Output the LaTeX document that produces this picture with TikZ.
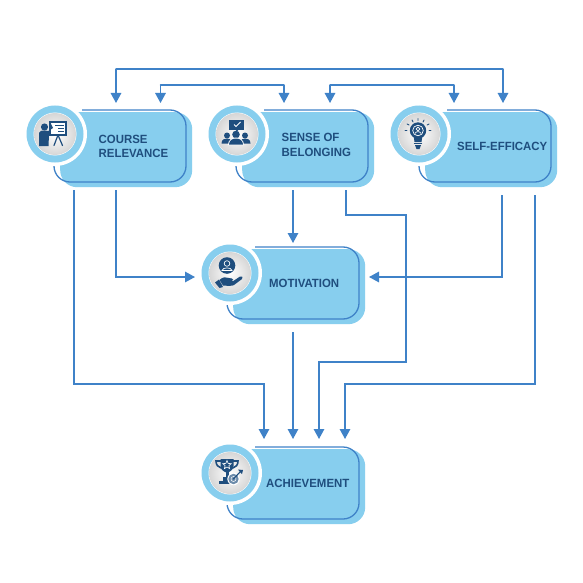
\documentclass[tikz,border=0pt]{standalone}
\usepackage{fontspec}
\setmainfont[FakeStretch=0.96]{Liberation Sans}
\usetikzlibrary{arrows.meta,shapes.geometric}
\definecolor{skyfill}{HTML}{87CEEE}
\definecolor{linecol}{HTML}{3F82C8}
\definecolor{ink}{HTML}{1F4E7E}
\tikzset{
  conn/.style={draw=linecol,line width=1.4pt,-{Triangle[length=10pt,width=10.5pt]}},
  plainconn/.style={draw=linecol,line width=1.4pt},
  panel/.style={fill=skyfill,draw=none,rounded corners=17pt,inner sep=0pt,anchor=north west},
  rim/.style={draw=linecol,line width=1.3pt,rounded corners=16pt},
  label/.style={font=\bfseries\fontsize{11.9}{14.5}\selectfont,text=ink,align=left,anchor=west,inner sep=0pt},
  icon/.style={fill=ink,draw=none},
  iconw/.style={fill=white,draw=none},
  iconl/.style={draw=ink,line width=1.1pt,line cap=round},
  wl/.style={draw=white,line width=.7pt}
}
% #1 name, #2 L, #3 T, #4 circle x, #5 circle y, #6 label x, #7 label y, #8 text
\newcommand{\cardbox}[8]{%
  \node[panel,minimum width=132pt,minimum height=75pt] (#1) at (#2+6,#3+2) {};
  \draw[rim] (#2+28,#3) -- (#2+132,#3) -- (#2+132,#3+72) -- (#2,#3+72) -- (#2,#3+55);
  \fill[white] (#4,#5) circle (32pt);
  \fill[skyfill] (#4,#5) circle (28.5pt);
  \fill[white] (#4,#5) circle (21.5pt);
  \shade[inner color=white,outer color=black!16] (#4,#5) circle (21pt);
  \node[label] (#1-label) at (#6,#7) {#8};
}
\begin{document}
\begin{tikzpicture}[x=1pt,y=-1pt]
\useasboundingbox (0,0) rectangle (583,583);
\fill[white] (0,0) rectangle (583,583);

\cardbox{course}{54}{110}{55}{134}{98.5}{146.5}{COURSE\\RELEVANCE}
\cardbox{belong}{236}{110}{237}{134}{281.5}{145}{SENSE OF\\BELONGING}
\cardbox{efficacy}{419}{110}{419}{134}{457}{146.5}{SELF-EFFICACY}
\cardbox{motiv}{227}{247}{230}{273}{269}{283.5}{MOTIVATION}
\cardbox{achieve}{227}{447}{230}{473}{266}{483.5}{ACHIEVEMENT}

% icons
\begin{scope}[shift={(55,134)}]
  \fill[icon] (-10.5,-7) circle (3.6pt);
  \fill[icon] (-16,12) -- (-16,-1) .. controls (-16,-3.5) and (-13,-3.5) .. (-10,-3.5) -- (-7,-3) -- (-2,-5) -- (-0.5,-2.5) -- (-6,0.5) -- (-6.5,12) -- cycle;
  \fill[icon] (-6,-12.5) rectangle (11.5,1.5);
  \fill[iconw] (-4.2,-10.7) rectangle (9.7,-0.3);
  \fill[icon] (-4.2,-10.7) -- (-4.2,-4.5) -- (-2,-6) -- cycle;
  \draw[iconl,line width=1.2pt,line cap=butt] (0,-8.8) -- (9,-8.8) (3,-5.8) -- (9,-5.8) (3,-2.8) -- (9,-2.8);
  \draw[iconl,line width=1.2pt] (3,1) -- (-1,11.5) (3,1) -- (7.5,11.5);
\end{scope}
\begin{scope}[shift={(237,134)}]
  \fill[icon] (-8,-14) rectangle (7,-4.5);
  \fill[icon] (-2,-5) -- (2,-5) -- (0,-2.5) -- cycle;
  \draw[wl,line width=.9pt] (-3,-9.5) -- (-1,-7.5) -- (3.5,-12);
  \fill[icon] (-1,0.5) circle (3.8pt);
  \fill[icon] (-10,1.5) circle (3pt);
  \fill[icon] (8,1.5) circle (3pt);
  \fill[icon] (-15.5,9.5) .. controls (-15.5,5) and (-12,4.5) .. (-10,4.5) .. controls (-8,4.5) and (-5,5) .. (-5,9.5) -- cycle;
  \fill[icon] (3,9.5) .. controls (3,5) and (6,4.5) .. (8,4.5) .. controls (10,4.5) and (13.5,5) .. (13.5,9.5) -- cycle;
  \fill[white] (-9,11) .. controls (-9,6) and (-5,3.6) .. (-1,3.6) .. controls (3,3.6) and (7,6) .. (7,11) -- cycle;
  \fill[icon] (-8,10.5) .. controls (-8,6.5) and (-4.5,4.5) .. (-1,4.5) .. controls (2.5,4.5) and (6,6.5) .. (6,10.5) -- cycle;
\end{scope}
\begin{scope}[shift={(419,134)}]
  \fill[icon] (-1,-3.5) circle (8.2pt);
  \fill[icon] (-5.5,1) -- (-4.5,8) -- (2.5,8) -- (3.5,1) -- cycle;
  \draw[iconl] (-4.5,9.8) -- (2.5,9.8);
  \fill[icon] (-4,11.2) -- (2,11.2) -- (0.5,15) -- (-2.5,15) -- cycle;
  \draw[wl] (-1,-3.5) circle (5.3pt);
  \draw[wl] (-1,-5) circle (1.8pt);
  \draw[wl] (-4,-0.5) .. controls (-3.5,-3) and (1.5,-3) .. (2,-0.5);
  \draw[iconl,line width=.9pt] (-1,-15.5) -- (-1,-13.5) (-7,-14) -- (-6,-12) (5,-14) -- (4,-12)
    (-12,-10) -- (-10,-9) (10,-10) -- (8,-9) (-14,-3.5) -- (-12,-3.5) (12,-3.5) -- (10,-3.5);
\end{scope}
\begin{scope}[shift={(230,273)}]
  \fill[icon] (-3,-7.5) circle (8.3pt);
  \draw[wl] (-3,-9.5) circle (2.8pt);
  \draw[wl] (-8,-2.5) .. controls (-7.5,-6) and (1.5,-6) .. (2,-2.5) -- cycle;
  \fill[icon] (-15,9.5) -- (-11,6.5) -- (-7,14) -- (-10.5,15) -- cycle;
  \fill[icon] (-10.5,7) .. controls (-7,3.5) and (-4,4) .. (-1,5) -- (2,5.5) .. controls (4,6) and (3.5,8) .. (1.5,8) -- (-2,8)
     -- (3,8.2) -- (10,3.5) .. controls (12,2.5) and (14,4.5) .. (12,6) -- (4,12) .. controls (2,13) and (-1,13) .. (-7,12.5) -- cycle;
\end{scope}
\begin{scope}[shift={(230,473)}]
  \fill[icon] (-9.5,-14) -- (3.5,-14) -- (3.5,-7) .. controls (3.5,-3) and (-1,-0.5) .. (-3,-0.5) .. controls (-5,-0.5) and (-9.5,-3) .. (-9.5,-7) -- cycle;
  \draw[iconl,line width=1.6pt] (-9,-12) -- (-14,-12) .. controls (-14,-8) and (-12,-6) .. (-9,-5);
  \draw[iconl,line width=1.6pt] (3,-12) -- (8,-12) .. controls (8,-8) and (6,-6) .. (3,-5);
  \fill[icon] (-4.5,-1) rectangle (-1.5,6);
  \fill[icon] (-7,4) rectangle (1,7.5);
  \fill[icon] (-11,7.5) rectangle (3,10.5);
  \node[star,star points=5,star point ratio=2.3,draw=white,line width=.6pt,fill=none,minimum size=9pt,inner sep=0pt] (cupstar) at (-3,-8) {};
  \fill[white] (3.5,6) circle (6.2pt);
  \fill[ink!65!white] (3.5,6) circle (5.2pt);
  \draw[wl,line width=.5pt] (3.5,6) circle (2.5pt);
  \draw[iconl] (3.5,6) -- (10,-1);
  \fill[icon] (8,-3.5) -- (13,-3) -- (12,1) -- (10,-1) -- cycle;
\end{scope}

% routing points
\coordinate (t1) at (116,69);  \coordinate (t2) at (503,69);
\coordinate (m1) at (160.5,85); \coordinate (m2) at (284,85);
\coordinate (n1) at (330,85);  \coordinate (n2) at (454,85);
\coordinate (courseTipA) at (116,103); \coordinate (courseTipB) at (160.5,103);
\coordinate (belongTipA) at (284,103); \coordinate (belongTipB) at (330,103);
\coordinate (effTipA) at (454,103);    \coordinate (effTipB) at (503,103);
\coordinate (courseA) at (74,190); \coordinate (courseB) at (116,190);
\coordinate (belongA) at (293,190); \coordinate (belongB) at (346,190);
\coordinate (effA) at (502,195); \coordinate (effB) at (535,195);
\coordinate (motivIn1) at (195,277); \coordinate (motivIn2) at (369,277);
\coordinate (motivTop) at (293,243); \coordinate (motivOut) at (293,332);
\coordinate (achA) at (264,439); \coordinate (achB) at (293,439);
\coordinate (achC) at (319,439); \coordinate (achD) at (345,439);

% connectors
\draw[conn] (t1) -- (courseTipA);
\draw[conn] (t2) -- (effTipB);
\draw[plainconn,line cap=round] (t1) -- (t2);
\draw[conn] (m1) -- (courseTipB);
\draw[conn] (m2) -- (belongTipA);
\draw[plainconn,line cap=round] (m1) -- (m2);
\draw[conn] (n1) -- (belongTipB);
\draw[conn] (n2) -- (effTipA);
\draw[plainconn,line cap=round] (n1) -- (n2);
\draw[conn] (courseB) |- (motivIn1);
\draw[conn] (effA) |- (motivIn2);
\draw[conn] (belongA) -- (motivTop);
\draw[conn] (motivOut) -- (achB);
\draw[conn] (courseA) -- (74,384) -- (264,384) -- (achA);
\draw[conn] (belongB) -- (346,215) -- (406,215) -- (406,362) -- (319,362) -- (achC);
\draw[conn] (effB) -- (535,384) -- (345,384) -- (achD);
\end{tikzpicture}
\end{document}
